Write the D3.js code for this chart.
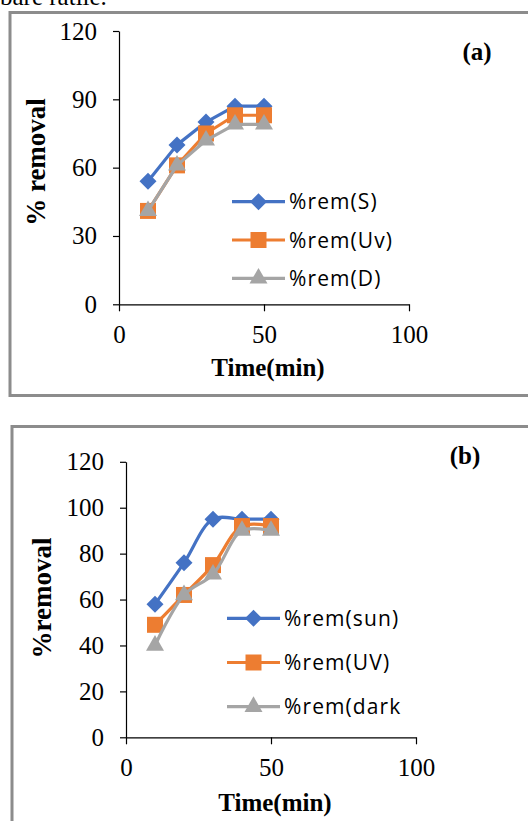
<!DOCTYPE html>
<html>
<head>
<meta charset="utf-8">
<script src="https://cdn.jsdelivr.net/npm/d3@7"></script>
<style>
  body { margin: 0; background: #fff; }
  svg { display: block; }
</style>
</head>
<body>
<div id="chart"></div>
<script>
// ---- data ----
const timeA = [10, 20, 30, 40, 50];
const remS = [54, 70, 80, 87, 87];
const remUv = [41, 61, 75, 83, 83];
const remD = [41, 61, 72, 79, 79];
const namesA = ['%rem(S)', '%rem(Uv)', '%rem(D)'];
const yTicksA = [0, 30, 60, 90, 120];

const timeB = [10, 20, 30, 40, 50];
const remSun = [58, 76, 95, 95, 95];
const remUV = [49, 62, 75, 92, 92];
const remDark = [40, 62, 71, 90, 90];
const namesB = ['%rem(sun)', '%rem(UV)', '%rem(dark'];
const yTicksB = [0, 20, 40, 60, 80, 100, 120];

const xTicks = [0, 50, 100];

const colors = ['#4472C4', '#ED7D31', '#A5A5A5'];

const W = 528, H = 821;
const svg = d3.select('#chart').append('svg')
  .attr('width', W).attr('height', H);

// cut-off text line above the first figure
svg.append('text')
  .attr('x', 0).attr('y', 5)
  .style('font-family', '"Liberation Serif", "Times New Roman", serif')
  .style('font-size', '25px')
  .text('bare ratile.');

// excel style diamond
const diamond = {
  draw(ctx, size) {
    const h = Math.sqrt(size / 2);
    ctx.moveTo(0, -h); ctx.lineTo(h, 0); ctx.lineTo(0, h); ctx.lineTo(-h, 0); ctx.closePath();
  }
};
const markers = [
  d3.symbol().type(diamond).size(2 * 8.5 * 8.5),
  d3.symbol().type(d3.symbolSquare).size(16 * 16),
  d3.symbol().type(d3.symbolTriangle).size(140)
];

const serif = '"Liberation Serif", "Times New Roman", serif';
const sans = '"Open Sans", "Liberation Sans", sans-serif';

function panel(cfg) {
  const g = svg.append('g');

  // frame
  g.append('rect')
    .attr('x', cfg.frame[0]).attr('y', cfg.frame[1])
    .attr('width', cfg.frame[2]).attr('height', cfg.frame[3])
    .attr('fill', 'none').attr('stroke', '#8c8c8c').attr('stroke-width', 3);

  const x = d3.scaleLinear().domain([0, 100]).range(cfg.xRange);
  const y = d3.scaleLinear().domain([0, 120]).range(cfg.yRange);

  const yAxis = g.append('g')
    .attr('transform', `translate(${cfg.xRange[0]},0)`)
    .call(d3.axisLeft(y).tickValues(cfg.yTicks).tickSize(6).tickSizeOuter(0).tickPadding(16));
  const xAxis = g.append('g')
    .attr('transform', `translate(0,${cfg.yRange[0]})`)
    .call(d3.axisBottom(x).tickValues(xTicks).tickSize(7).tickSizeOuter(0).tickPadding(14));

  [yAxis, xAxis].forEach(a => {
    a.selectAll('text')
      .style('font-family', serif).style('font-size', '25px').attr('fill', '#000');
    a.selectAll('line, path').attr('stroke', '#000').attr('stroke-width', 1.2);
  });

  // axis titles
  g.append('text')
    .attr('x', (cfg.xRange[0] + cfg.xRange[1]) / 2 + 4)
    .attr('y', cfg.xTitleY)
    .attr('text-anchor', 'middle')
    .style('font-family', serif).style('font-size', '25px').style('font-weight', 'bold')
    .text('Time(min)');

  g.append('text')
    .attr('transform', `translate(${cfg.yTitle[0]},${cfg.yTitle[1]}) rotate(-90)`)
    .attr('text-anchor', 'middle')
    .style('font-family', serif).style('font-size', '27px').style('font-weight', 'bold')
    .text(cfg.yLabel);

  g.append('text')
    .attr('x', cfg.tag[0]).attr('y', cfg.tag[1])
    .attr('text-anchor', 'middle')
    .style('font-family', serif).style('font-size', '25px').style('font-weight', 'bold')
    .text(cfg.tagText);

  const line = d3.line()
    .x(d => x(d[0])).y(d => y(d[1]))
    .curve(cfg.curve);

  cfg.series.forEach((vals, i) => {
    const pts = cfg.time.map((t, j) => [t, vals[j]]);
    g.append('path')
      .attr('d', line(pts))
      .attr('fill', 'none')
      .attr('stroke', colors[i])
      .attr('stroke-width', 3.2)
      .attr('stroke-linejoin', 'round');
    g.selectAll(null)
      .data(pts)
      .enter()
      .append('path')
      .attr('transform', d => `translate(${x(d[0])},${y(d[1])})`)
      .attr('d', markers[i]())
      .attr('fill', colors[i]);
  });

  // legend
  const leg = g.append('g');
  cfg.names.forEach((name, i) => {
    const ly = cfg.legend[1] + i * cfg.legend[2];
    const lx = cfg.legend[0];
    leg.append('line')
      .attr('x1', lx).attr('x2', lx + 53)
      .attr('y1', ly).attr('y2', ly)
      .attr('stroke', colors[i]).attr('stroke-width', 3.2);
    leg.append('path')
      .attr('transform', `translate(${lx + 26.5},${ly})`)
      .attr('d', markers[i]())
      .attr('fill', colors[i]);
    leg.append('text')
      .attr('x', lx + 57).attr('y', ly)
      .attr('dy', '0.36em')
      .style('font-family', sans).style('font-size', '21px')
      .style('letter-spacing', '1.1px')
      .text(name);
  });
}

panel({
  frame: [10, 12.5, 540, 383],
  xRange: [119, 409],
  yRange: [304.3, 31],
  yTicks: yTicksA,
  xTitleY: 376,
  yTitle: [45, 162],
  yLabel: '% removal',
  tag: [477, 60],
  tagText: '(a)',
  time: timeA,
  series: [remS, remUv, remD],
  names: namesA,
  legend: [232, 201.7, 38.3],
  curve: d3.curveLinear
});

panel({
  frame: [12, 426.5, 540, 420],
  xRange: [126, 416],
  yRange: [737.3, 461.8],
  yTicks: yTicksB,
  xTitleY: 810.5,
  yTitle: [51, 598],
  yLabel: '%removal',
  tag: [465, 464],
  tagText: '(b)',
  time: timeB,
  series: [remSun, remUV, remDark],
  names: namesB,
  legend: [227, 618.3, 44.2],
  curve: d3.curveCatmullRom.alpha(0.5)
});
</script>
</body>
</html>
